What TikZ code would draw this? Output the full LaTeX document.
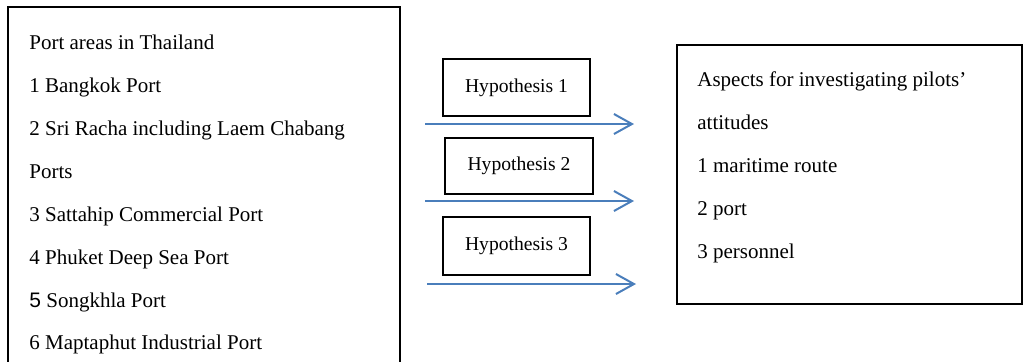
\documentclass[tikz,border=0pt]{standalone}
\usepackage{fontspec}
\setmainfont{Liberation Serif}
\newfontfamily\arialfont{Liberation Sans}
\usetikzlibrary{arrows.meta}
\definecolor{arrowblue}{HTML}{4A7EBB}
\tikzset{
  frame/.style={draw=black, line width=0.8pt, rectangle, inner sep=0pt},
  hypbox/.style={draw=black, line width=1pt, rectangle, inner sep=0pt,
    minimum width=73.5pt, minimum height=28.5pt, font=\fontsize{9.8pt}{11pt}\selectfont},
  line/.style={anchor=base west, inner sep=0pt, font=\fontsize{10.5pt}{12pt}\selectfont},
  flow/.style={draw=arrowblue, line width=1pt, -{Straight Barb[length=9pt,width=10pt,line width=1pt]}}
}
\begin{document}
\begin{tikzpicture}[x=0.5pt,y=-0.5pt]
\path[use as bounding box] (0,0) rectangle (1024,361);
\clip (0,0) rectangle (1024,361);
\fill[white] (0,0) rectangle (1024,361);
% left box
\node[frame, minimum width=196pt, minimum height=187pt] (ports) at (204,194) {};
\node[line] (p0) at (29,49) {Port areas in Thailand};
\node[line] (p1) at (29,92) {1 Bangkok Port};
\node[line] (p2) at (29,135) {2 Sri Racha including Laem Chabang};
\node[line] (p3) at (29,178) {Ports};
\node[line] (p4) at (29,221) {3 Sattahip Commercial Port};
\node[line] (p5) at (29,264) {4 Phuket Deep Sea Port};
\node[line] (p6) at (29,307) {{\arialfont 5} Songkhla Port};
\node[line] (p7) at (29,349) {6 Maptaphut Industrial Port};
% hypotheses
\node[hypbox] (h1) at (516.5,87.5) {Hypothesis 1};
\node[hypbox, minimum width=74pt, minimum height=28pt] (h2) at (519,166) {Hypothesis 2};
\node[hypbox, minimum height=29pt] (h3) at (516.5,246) {Hypothesis 3};
% arrows
\coordinate (a1s) at (425,124); \coordinate (a1e) at (634,124);
\coordinate (a2s) at (425,201); \coordinate (a2e) at (634,201);
\coordinate (a3s) at (427,284); \coordinate (a3e) at (636,284);
\draw[flow] (a1s) -- (a1e);
\draw[flow] (a2s) -- (a2e);
\draw[flow] (a3s) -- (a3e);
% right box
\node[frame, line width=1pt, minimum width=172.5pt, minimum height=129.5pt] (aspects) at (849.5,174.5) {};
\node[line] (q0) at (697,86) {Aspects for investigating pilots’};
\node[line] (q1) at (697,129) {attitudes};
\node[line] (q2) at (697,172) {1 maritime route};
\node[line] (q3) at (697,215) {2 port};
\node[line] (q4) at (697,258) {3 personnel};
\end{tikzpicture}
\end{document}
